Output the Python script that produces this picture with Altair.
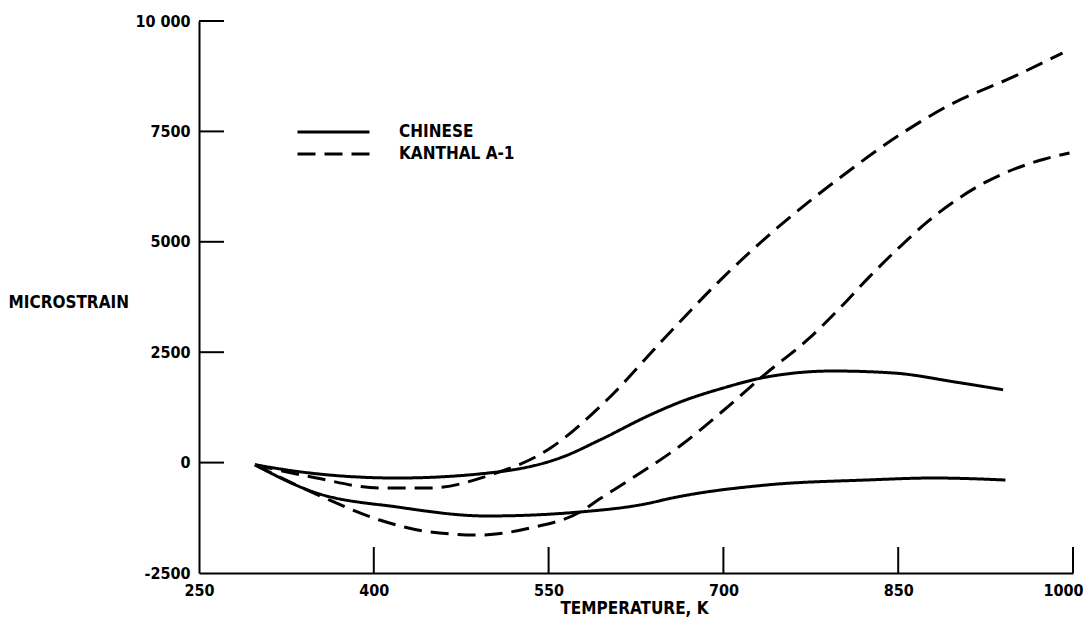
import altair as alt
import pandas as pd

# ---- data ----
alloys = ["CHINESE", "KANTHAL A-1"]

chinese_1_temp = [298, 345, 420, 506, 562, 594, 637, 663, 700, 737, 794, 846, 900, 940]
chinese_1_strain = [-50, -236, -349, -213, 127, 512, 1078, 1372, 1690, 1938, 2074, 2029, 1820, 1650]

chinese_2_temp = [298, 348, 420, 497, 577, 637, 652, 737, 823, 880, 942]
chinese_2_strain = [-50, -664, -1005, -1209, -1118, -915, -824, -507, -394, -349, -394]

kanthal_1_temp = [298, 351, 405, 448, 500, 549, 600, 648, 700, 750, 800, 850, 894, 950, 991]
kanthal_1_strain = [-50, -349, -575, -575, -281, 285, 1417, 2777, 4200, 5400, 6450, 7400, 8096, 8750, 9276]

kanthal_2_temp = [298, 356, 405, 448, 491, 534, 577, 594, 620, 663, 700, 737, 772, 800, 825, 850, 875, 900, 925, 950, 975, 997]
kanthal_2_strain = [-50, -780, -1300, -1571, -1640, -1481, -1118, -820, -380, 380, 1180, 2028, 2777, 3500, 4200, 4850, 5450, 5950, 6350, 6650, 6870, 7010]

x_tick_values = [250, 400, 550, 700, 850, 1000]
y_tick_values = [-2500, 0, 2500, 5000, 7500, 10000]
x_inner_ticks = [400, 550, 700, 850, 1000]
y_inner_ticks = [0, 2500, 5000, 7500, 10000]

rows = []
for alloy, curve, ts, ss in [
    ("CHINESE", "c1", chinese_1_temp, chinese_1_strain),
    ("CHINESE", "c2", chinese_2_temp, chinese_2_strain),
    ("KANTHAL A-1", "k1", kanthal_1_temp, kanthal_1_strain),
    ("KANTHAL A-1", "k2", kanthal_2_temp, kanthal_2_strain),
]:
    for t, s in zip(ts, ss):
        rows.append({"temp": t, "strain": s, "alloy": alloy, "curve": curve})
df = pd.DataFrame(rows)

W, H = 874, 552
FONT = "DejaVu Sans Condensed, Roboto, sans-serif"
TICK_FS = 16
TEXT_FS = 17

xscale = alt.Scale(domain=[250, 1000], nice=False, zero=False)
yscale = alt.Scale(domain=[-2500, 10000], nice=False, zero=False)

x_axis = alt.Axis(
    values=x_tick_values, ticks=False, grid=False,
    domainColor="black", domainWidth=2,
    labelFont=FONT, labelFontSize=TICK_FS, labelFontWeight="bold", labelColor="black",
    labelPadding=9, labelFlush=False,
    labelExpr="'' + datum.value",
    labelAlign={"condition": {"test": "datum.value == 1000", "value": "right"}, "value": "center"},
    labelOffset={"condition": {"test": "datum.value == 1000", "value": 10}, "value": 0},
    title="TEMPERATURE, K", titleFont=FONT, titleFontSize=TEXT_FS, titleFontWeight="bold",
    titleColor="black", titleBaseline="alphabetic", titleY=40, titleX=435,
)
y_axis = alt.Axis(
    values=y_tick_values, ticks=False, grid=False,
    domainColor="black", domainWidth=2,
    labelFont=FONT, labelFontSize=TICK_FS, labelFontWeight="bold", labelColor="black",
    labelPadding=9, labelFlush=False,
    labelExpr="datum.value == 10000 ? '10 000' : '' + datum.value",
    title="MICROSTRAIN", titleFont=FONT, titleFontSize=TEXT_FS, titleFontWeight="bold",
    titleColor="black", titleAngle=0, titleAlign="left", titleBaseline="alphabetic",
    titleX=-191, titleY=286,
)

lines = alt.Chart(df).mark_line(color="black", strokeWidth=3, interpolate="monotone").encode(
    x=alt.X("temp:Q", scale=xscale, axis=x_axis),
    y=alt.Y("strain:Q", scale=yscale, axis=y_axis),
    strokeDash=alt.StrokeDash(
        "alloy:N",
        scale=alt.Scale(domain=alloys, range=[[1, 0], [18, 9]]),
        legend=alt.Legend(
            orient="none", legendX=97, legendY=100, title=None,
            symbolType="stroke", symbolSize=5184, symbolStrokeWidth=3,
            symbolStrokeColor="black", clipHeight=22, rowPadding=0, padding=0,
            labelFont=FONT, labelFontSize=TEXT_FS, labelFontWeight="bold", labelColor="black",
            labelOffset=28,
        ),
    ),
    detail="curve:N",
)

xt = alt.Chart(pd.DataFrame({"temp": x_inner_ticks})).mark_rule(color="black", strokeWidth=2).encode(
    x=alt.X("temp:Q", scale=xscale, axis=x_axis),
    y=alt.value(H),
    y2=alt.value(H - 26),
)
yt = alt.Chart(pd.DataFrame({"strain": y_inner_ticks})).mark_rule(color="black", strokeWidth=2).encode(
    y=alt.Y("strain:Q", scale=yscale, axis=y_axis),
    x=alt.value(0),
    x2=alt.value(25),
)

chart = alt.layer(lines, xt, yt).properties(
    width=W, height=H,
    autosize=alt.AutoSizeParams(type="none"),
    padding={"left": 191, "top": 13, "right": 10, "bottom": 47},
    background="white",
).configure_view(stroke=None)

chart.save("out.html", embed_options={"renderer": "svg", "actions": False})
